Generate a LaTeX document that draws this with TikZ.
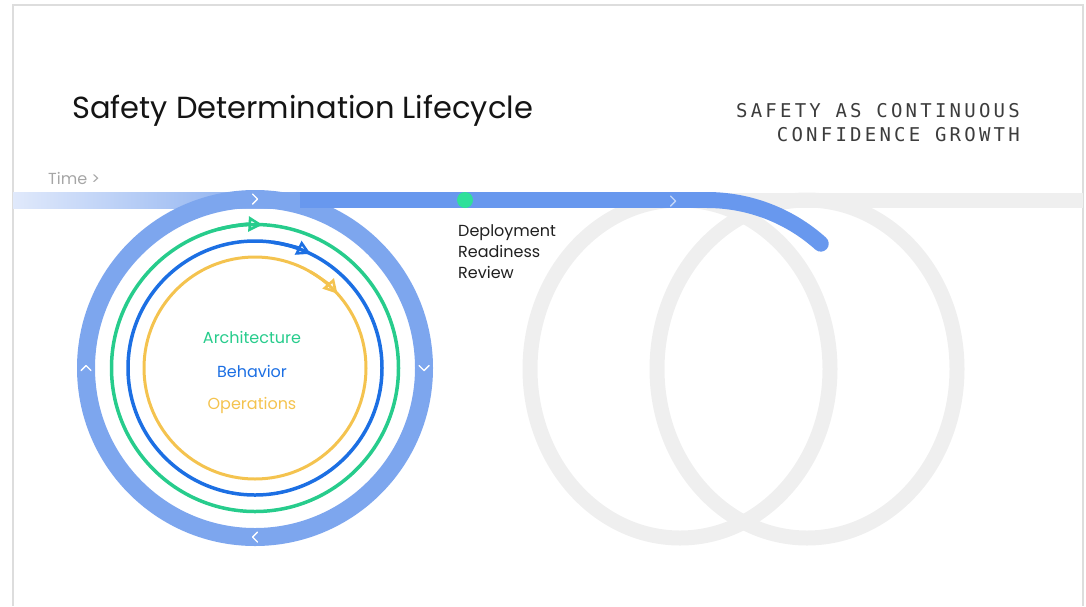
\documentclass[tikz,border=0pt]{standalone}
\usepackage{fontspec}
\setmainfont{Poppins}
\newfontfamily\tagfont[LetterSpace=17]{DejaVu Sans Mono}
\usetikzlibrary{arrows.meta}

\definecolor{framegray}{HTML}{DDDDDD}
\definecolor{ghost}{HTML}{EFEFEF}
\definecolor{barblue}{HTML}{6898EE}
\definecolor{barpale}{HTML}{E0E9FB}
\definecolor{ringblue}{HTML}{7DA6EE}
\definecolor{archgreen}{HTML}{27CC8C}
\definecolor{behblue}{HTML}{1C6FE3}
\definecolor{opsyellow}{HTML}{F4C34F}
\definecolor{dotgreen}{HTML}{2FE09A}
\definecolor{inkgray}{HTML}{3C3C3C}

\begin{document}
\begin{tikzpicture}[x=1pt,y=-1pt,
    chev/.pic={\draw[white,line width=1.4pt,line cap=round,line join=round] (-2.5,-5) -- (2.5,0) -- (-2.5,5);}]
  \tikzstyle{cycle}=[line width=3.5pt]
  \tikzstyle{cyclehead}=[-{Triangle[open,length=14pt,width=15pt,line width=2.6pt]}]
  \tikzstyle{ringlabel}=[inner sep=0pt,anchor=base,font=\fontsize{16}{18}\selectfont]
  \useasboundingbox (0,0) rectangle (1086,606);
  \draw[framegray,line width=1.2pt] (13,606) -- (13,5) -- (1083,5) -- (1083,606);

  \coordinate (lc) at (255,368);
  \coordinate (gl) at (680,369);
  \coordinate (gr) at (807,369);

  % faded loops further along the timeline
  \draw[ghost,line width=15pt] (gl) ellipse [x radius=150,y radius=169];
  \draw[ghost,line width=15pt] (gr) ellipse [x radius=150,y radius=169];
  \fill[ghost] (600,193) rectangle (1083,208);

  % timeline
  \shade[left color=barpale,right color=ringblue] (13,192) rectangle (300,208);
  \draw[ringblue,line width=18pt] (lc) circle [radius=169];
  \fill[barblue] (300,192) rectangle (707,208);
  \draw[barblue,line width=16pt,line cap=round] (707,200) arc [start angle=-90,end angle=-48,radius=170];
  \foreach \a in {0,90,180,270}
    \path (lc) ++(\a:169) pic[rotate=-\a-90] {chev};
  \path (673,201) pic[opacity=.6] {chev};
  \node[circle,fill=dotgreen,minimum size=16pt,inner sep=0pt] (drr) at (465,200) {};

  % nested review cycles
  \draw[archgreen,cycle] (lc) circle [radius=143.5];
  \draw[behblue,cycle] (lc) circle [radius=127];
  \draw[opsyellow,cycle,line width=3pt] (lc) circle [radius=111];
  \draw[archgreen,cycle,cyclehead] (lc) ++(255:143.5) arc [start angle=255,end angle=273,radius=143.5];
  \draw[behblue,cycle,cyclehead] (lc) ++(278:127) arc [start angle=278,end angle=296,radius=127];
  \draw[opsyellow,cycle,line width=3pt,cyclehead] (lc) ++(300:111) arc [start angle=300,end angle=318,radius=111];

  \node[ringlabel,text=archgreen] (arch) at (252,343) {Architecture};
  \node[ringlabel,text=behblue] (beh) at (252,377) {Behavior};
  \node[ringlabel,text=opsyellow] (ops) at (252,409) {Operations};

  \node[inner sep=0pt,anchor=north west,align=left,text=black!88,
        font=\fontsize{16}{21}\selectfont] (drrlabel) at (458,224) {Deployment\\Readiness\\Review};
  \node[inner sep=0pt,anchor=base west,text=black!35,font=\fontsize{16}{18}\selectfont] (time) at (48,184) {Time >};

  \node[inner sep=0pt,anchor=base west,text=black!92,font=\fontsize{30.5}{36}\selectfont] (title) at (72,118) {Safety Determination Lifecycle};
  \node[inner sep=0pt,anchor=base east,text=inkgray,font=\tagfont\fontsize{19}{22}\selectfont] (tag1) at (1020,117) {SAFETY AS CONTINUOUS};
  \node[inner sep=0pt,anchor=base east,text=inkgray,font=\tagfont\fontsize{19}{22}\selectfont] (tag2) at (1020,141) {CONFIDENCE GROWTH};
\end{tikzpicture}
\end{document}
